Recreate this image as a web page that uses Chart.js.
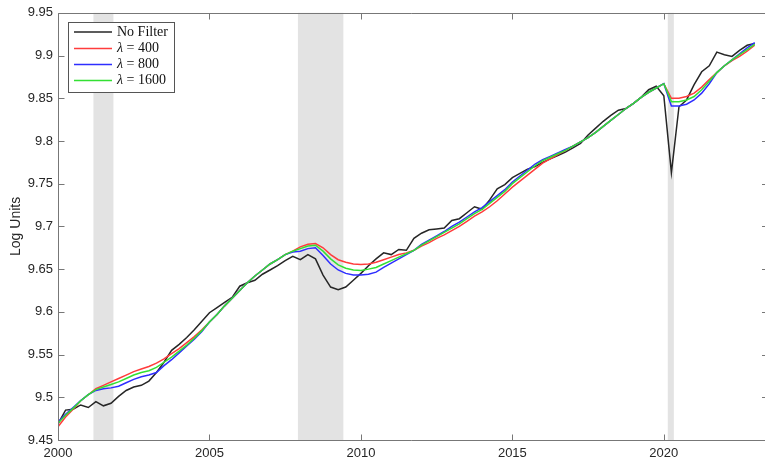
<!DOCTYPE html>
<html>
<head>
<meta charset="utf-8">
<script src="https://cdn.jsdelivr.net/npm/chart.js@4.4.0/dist/chart.umd.min.js"></script>
<style>
  html, body { margin: 0; padding: 0; background: #fff; }
  #wrap { width: 765px; height: 460px; position: relative; }
</style>
</head>
<body>
<div id="wrap"><canvas id="chart"></canvas></div>
<script>
// quarterly values, 2000Q1 .. 2023Q1 (log units)
var startYear = 2000;

var noFilter = [
  9.469, 9.485, 9.486, 9.491,   // 2000
  9.488, 9.495, 9.490, 9.493,   // 2001
  9.501, 9.508, 9.512, 9.514,   // 2002
  9.519, 9.529, 9.541, 9.555,   // 2003
  9.562, 9.570, 9.579, 9.589,   // 2004
  9.599, 9.605, 9.611, 9.617,   // 2005
  9.630, 9.634, 9.637, 9.644,   // 2006
  9.649, 9.654, 9.660, 9.665,   // 2007
  9.661, 9.667, 9.662, 9.643,   // 2008
  9.629, 9.626, 9.629, 9.637,   // 2009
  9.645, 9.654, 9.662, 9.669,   // 2010
  9.667, 9.673, 9.672, 9.686,   // 2011
  9.692, 9.696, 9.697, 9.698,   // 2012
  9.707, 9.709, 9.716, 9.723,   // 2013
  9.720, 9.731, 9.744, 9.749,   // 2014
  9.757, 9.762, 9.767, 9.770,   // 2015
  9.775, 9.779, 9.783, 9.787,   // 2016
  9.792, 9.797, 9.807, 9.815,   // 2017
  9.823, 9.830, 9.836, 9.838,   // 2018
  9.844, 9.851, 9.860, 9.864,   // 2019
  9.853, 9.763, 9.840, 9.848,   // 2020
  9.866, 9.881, 9.888, 9.904,   // 2021
  9.901, 9.899, 9.906, 9.912,   // 2022
  9.914                         // 2023
];

var lambda400 = [
  9.4655, 9.477, 9.486, 9.496,
  9.503, 9.510, 9.514, 9.518,
  9.522, 9.526, 9.530, 9.533,
  9.536, 9.540, 9.545, 9.551,
  9.557, 9.564, 9.571, 9.579,
  9.588, 9.597, 9.607, 9.616,
  9.625, 9.634, 9.642, 9.649,
  9.656, 9.661, 9.667, 9.671,
  9.676, 9.679, 9.680, 9.675,
  9.667, 9.661, 9.658, 9.656,
  9.6555, 9.656, 9.658, 9.661,
  9.664, 9.667, 9.669, 9.672,
  9.677, 9.681, 9.686, 9.690,
  9.695, 9.700, 9.706, 9.712,
  9.717, 9.723, 9.730, 9.738,
  9.746, 9.753, 9.760, 9.767,
  9.774, 9.779, 9.784, 9.789,
  9.794, 9.799, 9.804, 9.810,
  9.817, 9.824, 9.831, 9.838,
  9.844, 9.851, 9.857, 9.862,
  9.867, 9.850, 9.850, 9.852,
  9.856, 9.863, 9.872, 9.880,
  9.888, 9.894, 9.899, 9.905,
  9.912
];

var lambda800 = [
  9.471, 9.480, 9.488, 9.496,
  9.503, 9.508, 9.510, 9.511,
  9.513, 9.517, 9.521, 9.524,
  9.526, 9.529, 9.537, 9.544,
  9.552, 9.560, 9.568, 9.577,
  9.588, 9.597, 9.607, 9.616,
  9.625, 9.634, 9.642, 9.649,
  9.656, 9.661, 9.667, 9.670,
  9.671, 9.674, 9.675, 9.666,
  9.656, 9.649, 9.645, 9.643,
  9.643, 9.644, 9.6465, 9.652,
  9.657, 9.662, 9.667, 9.672,
  9.679, 9.684, 9.689, 9.694,
  9.700, 9.705, 9.711, 9.717,
  9.722, 9.729, 9.736, 9.743,
  9.752, 9.759, 9.766, 9.773,
  9.778, 9.782, 9.786, 9.790,
  9.794, 9.799, 9.804, 9.810,
  9.817, 9.824, 9.831, 9.838,
  9.844, 9.851, 9.857, 9.862,
  9.867, 9.841, 9.841, 9.843,
  9.848, 9.856, 9.867, 9.880,
  9.888, 9.895, 9.902, 9.909,
  9.915
];

var lambda1600 = [
  9.4695, 9.479, 9.487, 9.496,
  9.503, 9.509, 9.512, 9.515,
  9.518, 9.522, 9.526, 9.529,
  9.531, 9.535, 9.541, 9.547,
  9.554, 9.561, 9.569, 9.578,
  9.588, 9.597, 9.607, 9.616,
  9.625, 9.634, 9.642, 9.649,
  9.656, 9.661, 9.667, 9.671,
  9.674, 9.677, 9.678, 9.671,
  9.662, 9.655, 9.651, 9.649,
  9.6485, 9.650, 9.652, 9.656,
  9.660, 9.664, 9.668, 9.672,
  9.678, 9.683, 9.688, 9.693,
  9.698, 9.703, 9.709, 9.715,
  9.720, 9.727, 9.734, 9.741,
  9.750, 9.757, 9.764, 9.771,
  9.777, 9.781, 9.785, 9.789,
  9.794, 9.799, 9.804, 9.810,
  9.817, 9.824, 9.831, 9.838,
  9.844, 9.851, 9.857, 9.862,
  9.867, 9.846, 9.846, 9.848,
  9.852, 9.860, 9.870, 9.880,
  9.888, 9.895, 9.901, 9.907,
  9.913
];

var seriesNames = ['No Filter', 'λ = 400', 'λ = 800', 'λ = 1600'];
var seriesColors = ['#262626', '#ff3c3c', '#2e2eff', '#33e033'];

// NBER recessions (decimal years)
var recessionStart = [2001.17, 2007.92, 2020.13];
var recessionEnd   = [2001.83, 2009.42, 2020.33];

var xTicks = [2000, 2005, 2010, 2015, 2020];
var yTicks = [9.45, 9.5, 9.55, 9.6, 9.65, 9.7, 9.75, 9.8, 9.85, 9.9, 9.95];

//------------------------------------------------------
var quarters = noFilter.map(function (v, i) { return startYear + i / 4; });

function toPoints(values) {
  return values.map(function (v, i) { return { x: quarters[i], y: v }; });
}

var allSeries = [noFilter, lambda400, lambda800, lambda1600];
var datasets = allSeries.map(function (vals, k) {
  return {
    label: seriesNames[k],
    data: toPoints(vals),
    borderColor: seriesColors[k],
    backgroundColor: seriesColors[k],
    borderWidth: 1.5,
    pointRadius: 0,
    tension: 0,
    fill: false,
    order: allSeries.length - k   // later series drawn on top
  };
});

var axisColor = '#777';
var tickFont = { family: '"Liberation Sans", Arial, sans-serif', size: 13 };

// grey recession bands behind the lines
var recessionPlugin = {
  id: 'recessions',
  beforeDatasetsDraw: function (chart) {
    var ctx = chart.ctx, area = chart.chartArea, xs = chart.scales.x;
    ctx.save();
    ctx.fillStyle = '#e3e3e3';
    for (var i = 0; i < recessionStart.length; i++) {
      var a = xs.getPixelForValue(recessionStart[i]);
      var b = xs.getPixelForValue(recessionEnd[i]);
      ctx.fillRect(a, area.top, b - a, area.bottom - area.top);
    }
    ctx.restore();
  }
};

// matlab style box with inward ticks (right edge is cut off), plus legend box
var boxPlugin = {
  id: 'boxAxes',
  afterDraw: function (chart) {
    var ctx = chart.ctx, area = chart.chartArea;
    var xs = chart.scales.x, ys = chart.scales.y;
    var L = Math.round(area.left) + 0.5, R = chart.width;
    var T = Math.round(area.top) + 0.5, B = Math.round(area.bottom) + 0.5;
    var tl = 6;
    ctx.save();
    ctx.strokeStyle = axisColor;
    ctx.lineWidth = 1;
    ctx.beginPath();
    ctx.moveTo(R, T); ctx.lineTo(L, T); ctx.lineTo(L, B); ctx.lineTo(R, B);
    xs.ticks.forEach(function (t) {
      var px = Math.round(xs.getPixelForValue(t.value)) + 0.5;
      ctx.moveTo(px, B); ctx.lineTo(px, B - tl);
      ctx.moveTo(px, T); ctx.lineTo(px, T + tl);
    });
    ys.ticks.forEach(function (t) {
      var py = Math.round(ys.getPixelForValue(t.value)) + 0.5;
      ctx.moveTo(L, py); ctx.lineTo(L + tl, py);
      ctx.moveTo(R, py); ctx.lineTo(R - 3, py);
    });
    ctx.stroke();

    // legend
    var bx = 68.5, by = 22.5, bw = 106, bh = 70;
    ctx.fillStyle = '#fff';
    ctx.fillRect(bx, by, bw, bh);
    ctx.strokeStyle = '#555';
    ctx.strokeRect(bx, by, bw, bh);
    var rowY = [32, 48.5, 64.5, 80.5];
    ctx.textBaseline = 'middle';
    chart.data.datasets.forEach(function (ds, k) {
      var y = rowY[k];
      ctx.strokeStyle = ds.borderColor;
      ctx.lineWidth = 1.5;
      ctx.beginPath();
      ctx.moveTo(74, y); ctx.lineTo(112, y);
      ctx.stroke();
      ctx.fillStyle = '#111';
      var label = ds.label, x = 117;
      if (label.charAt(0) === 'λ') {
        ctx.font = 'italic 14px "Liberation Serif", "Times New Roman", serif';
        ctx.fillText('λ', x, y);
        x += ctx.measureText('λ').width;
        label = label.slice(1);
      }
      ctx.font = '14px "Liberation Serif", "Times New Roman", serif';
      ctx.fillText(label, x, y);
    });
    ctx.restore();
  }
};

var ctx = document.getElementById('chart').getContext('2d');
var myChart = new Chart(ctx, {
  type: 'line',
  data: { datasets: datasets },
  options: {
    responsive: true,
    maintainAspectRatio: false,
    animation: false,
    layout: { padding: { top: 12, right: 0, left: 0, bottom: 0 } },
    plugins: { legend: { display: false }, tooltip: { enabled: false } },
    scales: {
      x: {
        type: 'linear',
        min: 2000,
        max: 2023.34,
        grid: { display: false, drawTicks: false },
        border: { display: false },
        afterBuildTicks: function (scale) {
          scale.ticks = xTicks.map(function (v) { return { value: v }; });
        },
        afterFit: function (scale) { scale.height = 20; },
        ticks: {
          padding: 6,
          color: '#262626',
          font: tickFont,
          maxRotation: 0,
          callback: function (v) { return String(v); }
        }
      },
      y: {
        type: 'linear',
        min: 9.45,
        max: 9.95,
        grid: { display: false, drawTicks: false },
        border: { display: false },
        afterBuildTicks: function (scale) {
          scale.ticks = yTicks.map(function (v) { return { value: v }; });
        },
        afterFit: function (scale) { scale.width = 58; },
        ticks: {
          padding: 5,
          color: '#262626',
          font: tickFont,
          callback: function (v) { return String(parseFloat(v.toFixed(2))); }
        },
        title: {
          display: true,
          text: 'Log Units',
          color: '#262626',
          font: { family: '"Liberation Sans", Arial, sans-serif', size: 14 },
          padding: { top: 8, bottom: 0 }
        }
      }
    }
  },
  plugins: [recessionPlugin, boxPlugin]
});
</script>
</body>
</html>
